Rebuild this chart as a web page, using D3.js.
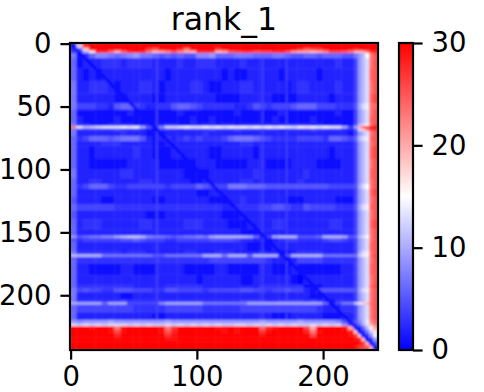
<!DOCTYPE html>
<html>
<head>
<meta charset="utf-8">
<script src="https://cdn.jsdelivr.net/npm/d3@7"></script>
<style>
    html, body { margin: 0; padding: 0; background: #fff; }
    svg { display: block; }
    text { font-family: "DejaVu Sans", sans-serif; fill: #000; }
</style>
</head>
<body>
<div id="chart"></div>
<script>

const chartTitle = "rank_1"
const residueCount = 244

const xTicks = [0, 100, 200]
const yTicks = [0, 50, 100, 150, 200]
const colorTicks = [0, 10, 20, 30]

// first residue of every block
const columnStarts = [...d3.range(0, 225, 5), 225, 228, 231, 234, 237, 240]
const rowStarts = [0, 2, 4, 6, 8, 12, 20, 30, 40, 48, 53, 58, 64, 66, 68, 70, 74, 78, 82, 92,
    100, 108, 112, 116, 122, 128, 133, 140, 148, 153, 155, 158, 165, 168, 170, 175, 184, 192,
    195, 198, 204, 206, 208, 214, 220, 223, 225, 228, 231, 234, 237, 240]

// estimated error per block, one base 31 character per column (0-9, a=10 ... u=30)
const paeRows = [
    "2kuuu uuuuu uuuuu uuuuu uuuuu uuuuu uuuuu uuuuu uuuuu uuuuuu",
    "2cquu uuuuu uuuuu uuuuu uuuuu uuuuu uuuuu uuuuu uuuuu uuuuuu",
    "36itu uutuu uurpu uusnu uuurt uuuuu uuuuu uspqr tuuut stuuuu",
    "34ags sojos tsnjk mpmkj sssjk pqrrp qqssp lkkjk mqqpn jjknrs",
    "71368 87678 97765 65655 88966 67776 66776 55665 66655 79bfnp",
    "61222 33323 33322 22322 33322 22322 22222 22222 22322 49bdnp",
    "62121 22222 22222 12222 22221 21122 22212 22221 22222 49bdop",
    "72233 32122 23321 22223 32112 22332 22221 23322 22322 49bdnp",
    "72222 22112 22211 22222 22211 11222 22111 12222 21222 49bdoq",
    "74443 32566 43223 35665 43333 32235 43444 56664 44333 5adeno",
    "61111 11112 11111 11211 11111 12111 11121 11111 11211 49bdnp",
    "62111 11211 11111 11112 11211 11111 11211 11121 11111 49bdop",
    "73322 23333 22212 33223 23323 32333 23233 33323 22211 5bdgnq",
    "nebcd eeefe fa518 ddefe efefe fgfef efefe dfgfe feea4 akpstt",
    "73333 33433 32113 33233 33433 34333 33323 33343 33322 5dimqr",
    "72222 22232 22111 22222 23222 22222 22222 22222 22221 49bdnp",
    "63466 65677 75212 32343 43334 67776 54333 34444 36654 6bdeop",
    "62222 33322 22211 22222 22222 22332 22222 22222 22222 49bdnp",
    "62212 22222 32211 12222 22112 22221 22222 22222 21222 49bdoq",
    "62211 11112 22221 11111 22211 11122 21111 22221 11122 49bdnp",
    "72222 22233 22222 22211 11222 22223 22222 22322 22222 49bdop",
    "62233 22222 23322 22221 12222 22332 22222 23222 22222 49bdnp",
    "63466 64334 44444 34444 65444 77766 65555 55555 54444 5adfnp",
    "62222 22222 22222 22222 11222 22222 22222 22222 22222 49bdoq",
    "52222 11222 22211 22222 22111 22322 22221 11222 22111 49bdnp",
    "64444 44333 33333 33333 33332 23333 44554 33544 44333 5adeop",
    "52222 22222 22111 22222 22221 11222 22222 22222 22222 49bdnp",
    "62333 22222 23322 22233 32222 11122 22332 22222 23322 49bdoq",
    "62222 22222 22222 22222 22222 22111 22222 22222 22222 49bdnp",
    "95677 88abc cb877 65677 87abb bbba6 14abb b5556 bbba5 6bdfnp",
    "53444 44455 65444 33444 44555 54332 20234 43333 45543 49bdnp",
    "62222 22222 22222 22222 22222 22211 11222 22222 22222 49bdop",
    "73333 33323 33222 22233 22233 32222 32211 23333 22222 4adenp",
    "bbbbb 77777 77755 77777 7bbb7 bbb6b bbb25 bbbbb 77777 7cegoq",
    "63333 33333 33333 33333 33444 44444 43221 24444 33333 49bdnp",
    "62211 11122 11112 22211 11122 11111 22111 21111 11122 49bdop",
    "62222 22222 22222 22222 12222 22112 22222 10222 22222 49bdnp",
    "63333 33333 22222 33333 32222 22222 33333 33111 22222 49bdoq",
    "74544 33555 44433 55444 43444 44554 43445 44215 55555 5adenp",
    "72222 22211 22222 22222 22222 22222 22222 22211 22222 49bdnp",
    "73333 33343 33333 33333 33333 33444 43344 44343 21333 49bdnp",
    "aaaaa 6aaa4 44448 aaaaa a7777 777aa aaaaa aaaaa 61477 ceijop",
    "64444 44444 33333 44444 43333 33444 44444 44443 22233 49bdnp",
    "62222 22222 22211 22222 22222 22222 22111 22222 11122 49bdnp",
    "98999 9a999 99999 a9999 99999 99999 a9999 9a999 99853 58bemo",
    "dcdcd cdddc dcdcc dcdcd cdcdc cddcd cdcdc dccdc dcd94 36adjn",
    "uuutu utntu uuuut nruuu uuutt utuuu ostuu uuqku uuutk 326bgk",
    "uuuuu utqtu uuuut psuuu uuuut utuuu rtuuu uusnt uuuus h237ch",
    "uuuuu uusuu uuuuu rtuuu uuuuu uuuuu tuuuu uuuqu uuuut ri238e",
    "uuuuu uuuuu uuuuu ttuuu uuuuu uuuuu uuuuu uuuuu uuuuu tsi239",
    "uuuuu uuuuu uuuuu uuuuu uuuuu uuuuu uuuuu uuuuu uuuuu utrj25",
    "uuuuu uuuuu uuuuu uuuuu uuuuu uuuuu uuuuu uuuuu uuuuu trqpk3"
]

// the dark line along the diagonal
const diagonalOffsets = [-1, 0, 1]
const diagonalPae = [1, 0.2, 1]

// faint pale columns through the blue area
const paleColumns = [68, 152, 171]
const paleValue = 4

const width = 484
const height = 392
const plot = { left: 70, right: 378, top: 43, bottom: 350 }
const bar = { left: 399, right: 413 }

const svg = d3.select("#chart").append("svg")
    .attr("width", width)
    .attr("height", height)

const x = d3.scaleLinear().domain([-0.5, residueCount - 0.5]).range([plot.left, plot.right])
const y = d3.scaleLinear().domain([-0.5, residueCount - 0.5]).range([plot.top, plot.bottom])
const color = d3.scaleLinear().domain([0, 15, 30]).range(["#0000ff", "#ffffff", "#ff0000"])
const barScale = d3.scaleLinear().domain([0, 30]).range([plot.bottom, plot.top])

const cells = []

paeRows.forEach((row, r) => {

    const y0 = rowStarts[r]
    const y1 = r + 1 < rowStarts.length ? rowStarts[r + 1] : residueCount

    row.replace(/ /g, "").split("").forEach((c, k) => {

        cells.push({
            x0: columnStarts[k],
            x1: k + 1 < columnStarts.length ? columnStarts[k + 1] : residueCount,
            y0: y0,
            y1: y1,
            value: parseInt(c, 31)
        })

    })

    paleColumns.forEach(col => {

        const under = parseInt(row.replace(/ /g, "")[d3.bisectRight(columnStarts, col) - 1], 31)

        if (under < paleValue) {

            cells.push({ x0: col, x1: col + 1, y0: y0, y1: y1, value: paleValue })

        }

    })

})

diagonalOffsets.forEach((offset, k) => {

    d3.range(0, residueCount).forEach(i => {

        if (i + offset >= 0 && i + offset < residueCount) {

            cells.push({ x0: i, x1: i + 1, y0: i + offset, y1: i + offset + 1, value: diagonalPae[k] })

        }

    })

})

const defs = svg.append("defs")

defs.append("clipPath").attr("id", "plotClip").append("rect")
    .attr("x", plot.left)
    .attr("y", plot.top)
    .attr("width", plot.right - plot.left)
    .attr("height", plot.bottom - plot.top)

// imshow smooths the blocks a little
const smooth = defs.append("filter").attr("id", "smooth")
    .attr("x", 0).attr("y", 0).attr("width", 1).attr("height", 1)

smooth.append("feGaussianBlur").attr("stdDeviation", 0.8).attr("edgeMode", "duplicate")

const gradient = defs.append("linearGradient").attr("id", "barGradient")
    .attr("x1", 0).attr("y1", 1).attr("x2", 0).attr("y2", 0)

color.domain().forEach(d => {

    gradient.append("stop").attr("offset", d / 30).attr("stop-color", color(d))

})

svg.append("g")
    .attr("clip-path", "url(#plotClip)")
    .append("g")
    .attr("filter", "url(#smooth)")
    .selectAll("rect")
    .data(cells)
    .enter()
    .append("rect")
    .attr("x", d => x(d.x0 - 0.5))
    .attr("y", d => y(d.y0 - 0.5))
    .attr("width", d => x(d.x1 - 0.5) - x(d.x0 - 0.5) + 0.4)
    .attr("height", d => y(d.y1 - 0.5) - y(d.y0 - 0.5) + 0.4)
    .attr("fill", d => color(d.value))

svg.append("rect")
    .attr("x", bar.left)
    .attr("y", plot.top)
    .attr("width", bar.right - bar.left)
    .attr("height", plot.bottom - plot.top)
    .attr("fill", "url(#barGradient)")

function styleAxis(g) {

    g.selectAll("text").style("font-size", "27.5px")
    g.selectAll("line").attr("stroke", "#000").attr("stroke-width", 2.2)
    g.select(".domain").remove()

}

svg.append("g")
    .attr("transform", `translate(0,${plot.bottom})`)
    .call(d3.axisBottom(x).tickValues(xTicks).tickSize(9.6).tickPadding(7))
    .call(styleAxis)

svg.append("g")
    .attr("transform", `translate(${plot.left},0)`)
    .call(d3.axisLeft(y).tickValues(yTicks).tickSize(9.6).tickPadding(9))
    .call(styleAxis)

svg.append("g")
    .attr("transform", `translate(${bar.right},0)`)
    .call(d3.axisRight(barScale).tickValues(colorTicks).tickSize(9.6).tickPadding(9))
    .call(styleAxis)

const frames = [[plot.left, plot.right], [bar.left, bar.right]]

svg.selectAll("rect.frame")
    .data(frames)
    .enter()
    .append("rect")
    .attr("class", "frame")
    .attr("x", d => d[0])
    .attr("y", plot.top)
    .attr("width", d => d[1] - d[0])
    .attr("height", plot.bottom - plot.top)
    .attr("fill", "none")
    .attr("stroke", "#000")
    .attr("stroke-width", 2.2)

svg.append("text")
    .attr("x", (plot.left + plot.right) / 2)
    .attr("y", 29.5)
    .attr("text-anchor", "middle")
    .style("font-size", "31.5px")
    .text(chartTitle)

</script>
</body>
</html>
